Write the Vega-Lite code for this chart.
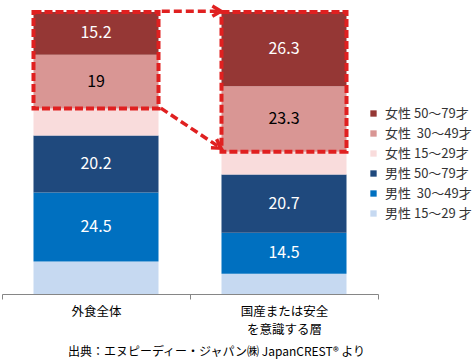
{
  "$schema": "https://vega.github.io/schema/vega-lite/v6.json",
  "width": 376,
  "height": 282,
  "autosize": "none",
  "padding": {"left": 2, "top": 12, "right": 94, "bottom": 66},
  "background": "white",
  "config": {
    "view": {"stroke": null},
    "font": "Noto Sans CJK JP",
    "text": {"font": "Noto Sans CJK JP"}
  },
  "datasets": {
    "bars": [
      {"cat": "外食全体", "grp": "男性 15～29 才", "v": 11.5, "o": 1},
      {"cat": "外食全体", "grp": "男性\u00a0 30～49才", "v": 24.5, "o": 2},
      {"cat": "外食全体", "grp": "男性 50～79才", "v": 20.2, "o": 3},
      {"cat": "外食全体", "grp": "女性 15～29才", "v": 9.6, "o": 4},
      {"cat": "外食全体", "grp": "女性\u00a0 30～49才", "v": 19, "o": 5},
      {"cat": "外食全体", "grp": "女性 50～79才", "v": 15.2, "o": 6},
      {"cat": "国産または安全を意識する層", "grp": "男性 15～29 才", "v": 7.2, "o": 1},
      {"cat": "国産または安全を意識する層", "grp": "男性\u00a0 30～49才", "v": 14.5, "o": 2},
      {"cat": "国産または安全を意識する層", "grp": "男性 50～79才", "v": 20.7, "o": 3},
      {"cat": "国産または安全を意識する層", "grp": "女性 15～29才", "v": 8.0, "o": 4},
      {"cat": "国産または安全を意識する層", "grp": "女性\u00a0 30～49才", "v": 23.3, "o": 5},
      {"cat": "国産または安全を意識する層", "grp": "女性 50～79才", "v": 26.3, "o": 6}
    ],
    "boxes": [
      {"cat": "外食全体", "lo": 65.8, "hi": 100},
      {"cat": "国産または安全を意識する層", "lo": 50.4, "hi": 100}
    ],
    "arrows": [
      {"id": "a", "x": 0.85, "y": 100.3, "x2": 1.165, "y2": 100.3},
      {"id": "b", "x": 0.845, "y": 65.9, "x2": 1.165, "y2": 51.7}
    ]
  },
  "resolve": {"scale": {"x": "independent"}},
  "layer": [
    {
      "layer": [
        {
          "data": {"name": "bars"},
          "transform": [
            {"stack": "v", "groupby": ["cat"], "sort": [{"field": "o", "order": "ascending"}], "as": ["y0", "y1"]}
          ],
          "mark": {"type": "bar", "width": {"band": 0.665}},
          "encoding": {
            "x": {
              "field": "cat", "type": "nominal", "sort": null,
              "scale": {"paddingInner": 0, "paddingOuter": 0},
              "axis": {
                "title": "出典：エヌピーディー・ジャパン㈱ JapanCREST® より",
                "titleFontSize": 12,
                "titleFontWeight": "normal",
                "titleColor": "#000000",
                "titleX": 214,
                "titleY": 57,
                "titleBaseline": "middle",
                "titleAlign": "center",
                "labelAngle": 0,
                "labelFontSize": 12.5,
                "labelColor": "#000000",
                "labelPadding": 6,
                "labelLineHeight": 18,
                "labelExpr": "datum.value == '国産または安全を意識する層' ? ['国産または安全', 'を意識する層'] : datum.label",
                "tickBand": "extent",
                "tickSize": 5,
                "tickColor": "#868686",
                "domainColor": "#868686"
              }
            },
            "y": {"field": "y0", "type": "quantitative", "scale": {"domain": [0, 100], "nice": false}, "axis": null},
            "y2": {"field": "y1"},
            "color": {
              "field": "grp", "type": "nominal",
              "scale": {
                "domain": ["女性 50～79才", "女性\u00a0 30～49才", "女性 15～29才", "男性 50～79才", "男性\u00a0 30～49才", "男性 15～29 才"],
                "range": ["#953735", "#D99694", "#F9DCDC", "#1F497D", "#0070C0", "#C6D9F1"]
              },
              "legend": {
                "title": null,
                "orient": "none",
                "legendX": 365,
                "legendY": 95,
                "symbolType": "square",
                "symbolSize": 40,
                "symbolStrokeWidth": 0,
                "labelFontSize": 13,
                "labelColor": "#333333",
                "labelOffset": 5,
                "rowPadding": 6,
                "padding": 0
              }
            }
          }
        },
        {
          "data": {"name": "bars"},
          "transform": [
            {"stack": "v", "groupby": ["cat"], "sort": [{"field": "o", "order": "ascending"}], "as": ["y0", "y1"]},
            {"filter": "indexof(datum.grp, '15～29') < 0"},
            {"calculate": "(datum.y0 + datum.y1) / 2", "as": "mid"}
          ],
          "mark": {"type": "text", "fontSize": 16, "baseline": "middle", "align": "center"},
          "encoding": {
            "x": {"field": "cat", "type": "nominal", "sort": null},
            "y": {"field": "mid", "type": "quantitative"},
            "text": {"field": "v", "type": "quantitative"},
            "color": {
              "condition": {"test": "indexof(datum.grp, '30～49') >= 0 && indexof(datum.grp, '女性') >= 0", "value": "#000000"},
              "value": "#FFFFFF"
            }
          }
        },
        {
          "data": {"name": "boxes"},
          "mark": {"type": "bar", "width": {"band": 0.665}, "filled": false, "color": "#E02020", "stroke": "#E02020", "strokeWidth": 4, "strokeDash": [8, 3]},
          "encoding": {
            "x": {"field": "cat", "type": "nominal", "sort": null},
            "y": {"field": "lo", "type": "quantitative"},
            "y2": {"field": "hi"}
          }
        }
      ]
    },
    {
      "data": {"name": "arrows"},
      "layer": [
        {
          "mark": {"type": "rule", "color": "#E02020", "strokeWidth": 3.5, "strokeDash": [8, 4]},
          "encoding": {
            "x": {"field": "x", "type": "quantitative", "scale": {"domain": [0, 2], "nice": false, "zero": false}, "axis": null},
            "x2": {"field": "x2"},
            "y": {"field": "y", "type": "quantitative"},
            "y2": {"field": "y2"}
          }
        },
        {
          "transform": [{"filter": "datum.id == 'a'"}],
          "mark": {"type": "point", "shape": "M-1,-0.6L0,0L-1,0.6", "filled": false, "color": "#E02020", "strokeWidth": 3.5, "size": 300, "opacity": 1, "angle": 0},
          "encoding": {
            "x": {"field": "x2", "type": "quantitative"},
            "y": {"field": "y2", "type": "quantitative"}
          }
        },
        {
          "transform": [{"filter": "datum.id == 'b'"}],
          "mark": {"type": "point", "shape": "M-1,-0.6L0,0L-1,0.6", "filled": false, "color": "#E02020", "strokeWidth": 3.5, "size": 300, "opacity": 1, "angle": 33},
          "encoding": {
            "x": {"field": "x2", "type": "quantitative"},
            "y": {"field": "y2", "type": "quantitative"}
          }
        }
      ]
    }
  ]
}
